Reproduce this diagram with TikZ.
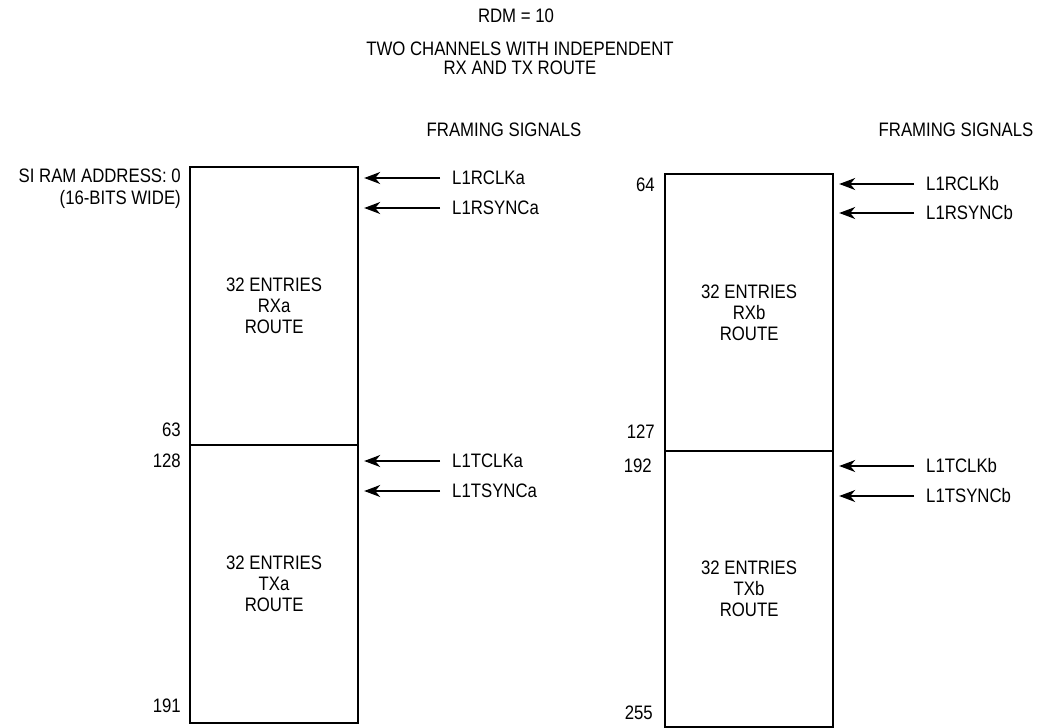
\documentclass[tikz,border=0pt]{standalone}
\usepackage{fontspec}
\setmainfont[FakeStretch=0.86]{Liberation Sans}
\usetikzlibrary{arrows.meta}
\begin{document}
\begin{tikzpicture}[x=1pt,y=-1pt,
  every node/.style={font=\fontsize{19.5}{21}\selectfont, inner sep=0pt},
  membox/.style={draw, line width=2.2pt, minimum width=168pt, inner sep=0pt},
  sig/.style={anchor=west, inner xsep=12pt},
  num/.style={anchor=east},
  arr/.style={-{Stealth[length=16pt,width=12pt,inset=5pt]}, line width=1.2pt, shorten >=5pt}
]
\useasboundingbox (0,0) rectangle (1042,728);
% titles
\node (t1) at (516,16) {RDM = 10};
\node[align=center, font=\fontsize{19.5}{19}\selectfont] (t2) at (520,58) {TWO CHANNELS WITH INDEPENDENT\\RX AND TX ROUTE};
\node (fa) at (504,130) {FRAMING SIGNALS};
\node (fb) at (956,130) {FRAMING SIGNALS};
% left boxes
\node[membox, minimum height=278pt, anchor=north west, align=center] (rxa) at (189,166) {32 ENTRIES\\RXa\\ROUTE};
\node[membox, minimum height=278pt, anchor=north west, align=center] (txa) at (189,444) {32 ENTRIES\\TXa\\ROUTE};
% right boxes
\node[membox, minimum height=277pt, anchor=north west, align=center] (rxb) at (664,173) {32 ENTRIES\\RXb\\ROUTE};
\node[membox, minimum height=276pt, anchor=north west, align=center] (txb) at (664,450) {32 ENTRIES\\TXb\\ROUTE};
% addresses
\node[num, align=right, font=\fontsize{19.5}{22}\selectfont] (a0) at (181,189) {SI RAM ADDRESS: 0\\(16-BITS WIDE)};
\node[num] (a63) at (181,430) {63};
\node[num] (a128) at (181,461) {128};
\node[num] (a191) at (181,706) {191};
\node[num] (a64) at (655,185) {64};
\node[num] (a127) at (655,432) {127};
\node[num] (a192) at (652,466) {192};
\node[num] (a255) at (653,713) {255};
% signals
\node[sig] (s1) at (440,178) {L1RCLKa};
\node[sig] (s2) at (440,208) {L1RSYNCa};
\node[sig] (s3) at (440,461) {L1TCLKa};
\node[sig] (s4) at (440,491) {L1TSYNCa};
\node[sig] (s5) at (914,184) {L1RCLKb};
\node[sig] (s6) at (914,213) {L1RSYNCb};
\node[sig] (s7) at (914,466) {L1TCLKb};
\node[sig] (s8) at (914,496) {L1TSYNCb};
\draw[arr] (s1.west) -- (s1.west -| rxa.east);
\draw[arr] (s2.west) -- (s2.west -| rxa.east);
\draw[arr] (s3.west) -- (s3.west -| txa.east);
\draw[arr] (s4.west) -- (s4.west -| txa.east);
\draw[arr] (s5.west) -- (s5.west -| rxb.east);
\draw[arr] (s6.west) -- (s6.west -| rxb.east);
\draw[arr] (s7.west) -- (s7.west -| txb.east);
\draw[arr] (s8.west) -- (s8.west -| txb.east);
\end{tikzpicture}
\end{document}
